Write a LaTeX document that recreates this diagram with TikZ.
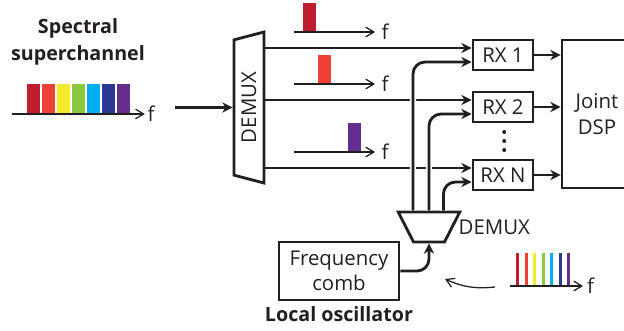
\documentclass[tikz,border=0pt]{standalone}
\usepackage{fontspec}
\setmainfont{Open Sans}
\usetikzlibrary{arrows.meta,positioning,shapes.geometric,calc}
\definecolor{ink}{RGB}{35,31,32}
\definecolor{ruby}{RGB}{190,30,45}
\definecolor{coral}{RGB}{239,65,54}
\definecolor{lemon}{RGB}{245,235,45}
\definecolor{leaf}{RGB}{141,198,63}
\definecolor{sky}{RGB}{0,174,239}
\definecolor{navy}{RGB}{43,57,144}
\definecolor{plum}{RGB}{102,45,145}
\tikzset{
  txt/.style={font=\fontsize{14.5}{18}\selectfont,text=ink},
  ttl/.style={font=\fontsize{14}{19}\selectfont\bfseries,text=ink,align=center},
  box/.style={draw=ink,line width=2pt,txt,minimum height=7.5mm,inner sep=2pt},
  sig/.style={draw=ink,line width=2pt,-{Stealth[length=2.6mm,width=2.6mm]}},
  axis/.style={draw=ink,line width=0.9pt,-{Straight Barb[length=2mm,width=2.4mm]}},
  demux/.style={trapezium,draw=ink,line width=2pt,trapezium stretches body,inner sep=0pt,txt},
  hop/.style={preaction={draw=white,line width=4.5pt,-}}
}

\begin{document}
\begin{tikzpicture}
  \clip (0,0) rectangle (15.6,8.25);
  % incoming superchannel
  \node[ttl] (title) at (1.95,7.21) {Spectral\\superchannel};
  \foreach \c [count=\i from 0] in {ruby,coral,lemon,leaf,sky,navy,plum}
    \fill[\c] (0.667+0.375*\i,5.4) rectangle ++(0.325,0.75);
  \draw[axis] (0.3,5.4) -- (3.62,5.4) node[txt,anchor=west,inner sep=1.5pt] (fin) {f};
  \coordinate (src) at (4.375,5.5625);

  % first demux and the receivers
  \node[demux,rotate=90,minimum width=37.75mm,minimum height=7.5mm,trapezium angle=62] (demuxa) at (6.225,5.5625) {DEMUX};
  \draw[sig] (src) -- (demuxa.north);
  \node[box,minimum width=15mm] (rxa) at (12.575,6.875) {RX 1};
  \node[box,minimum width=15mm] (rxb) at (12.575,5.575) {RX 2};
  \node[box,minimum width=15mm] (rxn) at (12.575,3.875) {RX N};
  \node[box,minimum width=17.5mm,minimum height=37mm,align=center] (dsp) at (14.925,5.4) {Joint\\DSP};
  \foreach \k in {-1,0,1}
    \fill[ink] ($(rxb.south)!0.5!(rxn.north)+(0.03,0.225*\k)$) circle (0.05);
  \foreach \r in {rxa,rxb,rxn} {
    \coordinate (\r-s) at ([yshift=1.75mm]\r.west);
    \coordinate (\r-lo) at ([yshift=-1.75mm]\r.west);
    \draw[sig] (demuxa.south |- \r-s) -- (\r-s);
    \draw[sig] (\r.east) -- (dsp.west |- \r.east);
  }

  % one channel per branch
  \foreach \y/\x/\c [count=\i] in {7.45/7.575/ruby,6.15/7.95/coral,4.45/8.7/plum} {
    \fill[\c] (\x,\y) rectangle ++(0.325,0.725);
    \draw[axis] (7.35,\y) -- (9.375,\y) node[txt,anchor=west,xshift=1pt] (f\i) {f};
  }

  % local oscillator
  \node[box,minimum width=30mm,minimum height=14.5mm,align=center] (comb) at (8.475,1.475) {Frequency\\comb};
  \node[ttl,below=0pt of comb] (lolbl) {Local oscillator};
  \node[demux,shape border rotate=180,inner xsep=3.875mm,inner ysep=3.75mm,trapezium angle=63] (demuxb) at (10.725,2.575) {};
  \node[txt,right=0pt of demuxb] (demuxbl) {DEMUX};
  \draw[sig,rounded corners=3mm] (comb.east) -| (demuxb.south);
  \draw[sig,hop,rounded corners=3mm] ([xshift=-4mm]demuxb.north) |- (rxa-lo);
  \draw[sig,hop,rounded corners=3mm] (demuxb.north) |- (rxb-lo);
  \draw[sig,hop,rounded corners=3mm] ([xshift=3.6mm]demuxb.north) |- (rxn-lo);

  % comb lines
  \foreach \c [count=\i from 0] in {ruby,coral,lemon,leaf,sky,navy,plum}
    \fill[\c] (12.9+0.2125*\i,1.1) rectangle ++(0.075,0.825);
  \draw[axis] (12.75,1.1) -- (14.575,1.1) node[txt,anchor=west,inner sep=2.5pt] (flo) {f};
  \coordinate (cs) at (12.375,1.075);
  \coordinate (ce) at (11.125,1.275);
  \draw[axis] (cs) to[bend left=15] (ce);
\end{tikzpicture}
\end{document}
